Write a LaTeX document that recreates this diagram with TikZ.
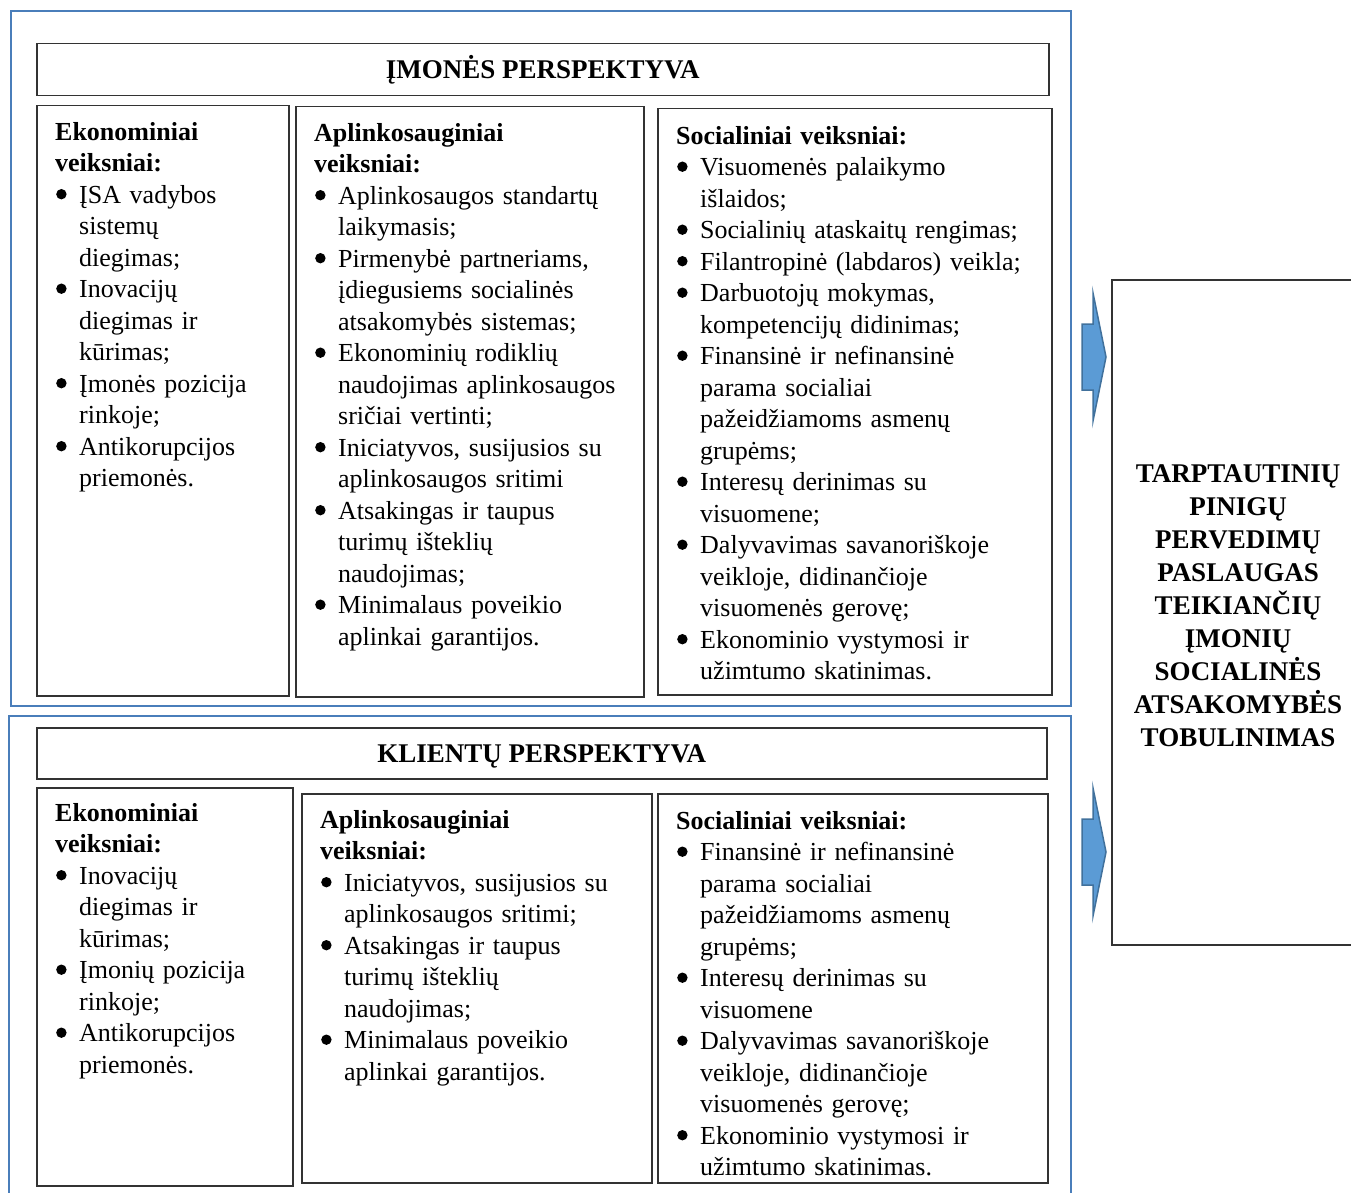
\documentclass[tikz,border=0pt]{standalone}
\usepackage{fontspec}
\setmainfont{Liberation Serif}

\definecolor{frameblue}{RGB}{74,126,186}
\definecolor{arrowfill}{RGB}{91,155,213}
\definecolor{arrowline}{RGB}{65,113,156}

\newcommand{\hd}[1]{\rule{0pt}{26pt}\textbf{#1}\par}
\newcommand{\bigdot}{\hspace{1pt}\tikz[baseline=-9pt]\fill (0pt,0pt) circle[radius=5.2pt];}
\newcommand{\bul}[1]{\par\hangindent=24pt\hangafter=1\noindent\makebox[24pt][l]{\bigdot}#1\par}

\begin{document}
\begin{tikzpicture}[x=1pt, y=-1pt, every node/.style={font=\fontsize{26}{31.5}\selectfont}, frame/.style={draw=frameblue, line width=2.5pt}, cell/.style={draw=black!80, line width=1.5pt, anchor=north west, inner sep=0pt}, txt/.style={anchor=north west, inner sep=0pt, align=left}, title/.style={font=\fontsize{27}{33}\selectfont\bfseries, align=center}, header/.style={title, text height=22pt, text depth=4pt}, blockarrow/.style={draw=arrowline, fill=arrowfill, line width=1.5pt, line join=miter}]
	\useasboundingbox (0,0) rectangle (1351,1193);
	\draw[frame] (11,11) rectangle (1071,706);
	\draw[frame] (9,716) rectangle (1071,1210);
	% upper block
	\node[cell, header, minimum width=1012, minimum height=52] (imon) at (36,43) {ĮMONĖS PERSPEKTYVA};
	\node[cell, minimum width=252, minimum height=590] (ie) at (36,105) {};
	\node[cell, minimum width=348, minimum height=590] (ia) at (295,106) {};
	\node[cell, minimum width=394, minimum height=586] (is) at (657,108) {};
	\node[txt, text width=225] (iet) at (55,114) {\hd{Ekonominiai\newline veiksniai:}
		\bul{ĮSA vadybos\newline sistemų\newline diegimas;}
		\bul{Inovacijų\newline diegimas ir\newline kūrimas;}
		\bul{Įmonės pozicija\newline rinkoje;}
		\bul{Antikorupcijos\newline priemonės.}};
	\node[txt, text width=320] (iat) at (314,115) {\hd{Aplinkosauginiai\newline veiksniai:}
		\bul{Aplinkosaugos standartų\newline laikymasis;}
		\bul{Pirmenybė partneriams,\newline įdiegusiems socialinės\newline atsakomybės sistemas;}
		\bul{Ekonominių rodiklių\newline naudojimas aplinkosaugos\newline sričiai vertinti;}
		\bul{Iniciatyvos, susijusios su\newline aplinkosaugos sritimi}
		\bul{Atsakingas ir taupus\newline turimų išteklių\newline naudojimas;}
		\bul{Minimalaus poveikio\newline aplinkai garantijos.}};
	\node[txt, text width=370] (ist) at (676,118) {\hd{Socialiniai veiksniai:}
		\bul{Visuomenės palaikymo\newline išlaidos;}
		\bul{Socialinių ataskaitų rengimas;}
		\bul{Filantropinė (labdaros) veikla;}
		\bul{Darbuotojų mokymas,\newline kompetencijų didinimas;}
		\bul{Finansinė ir nefinansinė\newline parama socialiai\newline pažeidžiamoms asmenų\newline grupėms;}
		\bul{Interesų derinimas su\newline visuomene;}
		\bul{Dalyvavimas savanoriškoje\newline veikloje, didinančioje\newline visuomenės gerovę;}
		\bul{Ekonominio vystymosi ir\newline užimtumo skatinimas.}};
	% lower block
	\node[cell, header, minimum width=1010, minimum height=51] (klie) at (36,727) {KLIENTŲ PERSPEKTYVA};
	\node[cell, minimum width=256, minimum height=398] (ke) at (36,787) {};
	\node[cell, minimum width=350, minimum height=389] (ka) at (301,793) {};
	\node[cell, minimum width=390, minimum height=389] (ks) at (657,793) {};
	\node[txt, text width=225] (ket) at (55,795) {\hd{Ekonominiai\newline veiksniai:}
		\bul{Inovacijų\newline diegimas ir\newline kūrimas;}
		\bul{Įmonių pozicija\newline rinkoje;}
		\bul{Antikorupcijos\newline priemonės.}};
	\node[txt, text width=320] (kat) at (320,802) {\hd{Aplinkosauginiai\newline veiksniai:}
		\bul{Iniciatyvos, susijusios su\newline aplinkosaugos sritimi;}
		\bul{Atsakingas ir taupus\newline turimų išteklių\newline naudojimas;}
		\bul{Minimalaus poveikio\newline aplinkai garantijos.}};
	\node[txt, text width=370] (kst) at (676,803) {\hd{Socialiniai veiksniai:}
		\bul{Finansinė ir nefinansinė\newline parama socialiai\newline pažeidžiamoms asmenų\newline grupėms;}
		\bul{Interesų derinimas su\newline visuomene}
		\bul{Dalyvavimas savanoriškoje\newline veikloje, didinančioje\newline visuomenės gerovę;}
		\bul{Ekonominio vystymosi ir\newline užimtumo skatinimas.}};
	% result
	\node[cell, line width=2pt, minimum width=252, minimum height=665] (res) at (1111,279) {};
	\node[title] (rest) at ([yshift=7pt]res.center) {TARPTAUTINIŲ\\ PINIGŲ\\ PERVEDIMŲ\\ PASLAUGAS\\ TEIKIANČIŲ\\ ĮMONIŲ\\ SOCIALINĖS\\ ATSAKOMYBĖS\\ TOBULINIMAS};
	\foreach \y in {357,852}
		\draw[blockarrow] (1082,\y-33) -- (1093,\y-33) -- (1093,\y-64) -- (1106,\y) -- (1093,\y+64) -- (1093,\y+33) -- (1082,\y+33) -- cycle;
\end{tikzpicture}
\end{document}
